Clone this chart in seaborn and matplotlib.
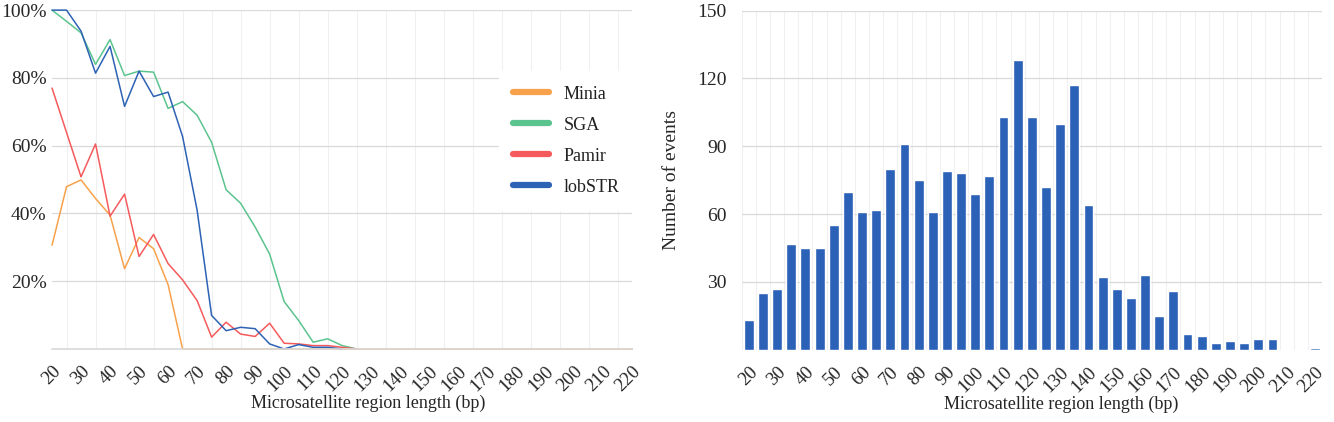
import numpy as np
import pandas as pd
import matplotlib
matplotlib.use("Agg")
import matplotlib.pyplot as plt
import seaborn as sns

nan = float("nan")

# region length categories (bp), 20..220 in steps of 5
lengths = [20, 25, 30, 35, 40, 45, 50, 55, 60, 65, 70, 75, 80, 85, 90, 95, 100,
           105, 110, 115, 120, 125, 130, 135, 140, 145, 150, 155, 160, 165, 170,
           175, 180, 185, 190, 195, 200, 205, 210, 215, 220]

# left panel: detection rate (%)
minia = [30.6, 47.9, 49.9, 44.4, 39.5, 23.7, 32.9, 29.6, 19.0, 0, 0, 0, 0, 0, 0, 0, 0,
         0, 0, 0, 0, 0, 0, 0, 0, 0, 0, 0, 0, 0, 0, 0, 0, 0, 0, 0, 0, 0, 0, 0, 0]
sga = [100, 96.7, 93.3, 84.0, 91.3, 80.7, 82.0, 81.7, 71.0, 73.0, 69.0, 61.0, 47.0,
       43.0, 36.0, 28.0, 14.0, 8.4, 2.0, 3.0, 1.0, 0, nan, nan, nan, nan, nan, nan,
       nan, nan, nan, nan, nan, nan, nan, nan, nan, nan, nan, nan, nan]
pamir = [77.0, 63.9, 50.8, 60.5, 39.2, 45.7, 27.3, 33.8, 25.2, 20.4, 14.3, 3.5, 7.9,
         4.4, 3.7, 7.6, 1.7, 1.5, 1.0, 1.0, 0.5, 0, nan, nan, nan, nan, nan, nan,
         nan, nan, nan, nan, nan, nan, nan, nan, nan, nan, nan, nan, nan]
lobstr = [100, 100, 93.8, 81.4, 89.3, 71.6, 82.0, 74.5, 75.8, 62.7, 41.0, 9.9, 5.4,
          6.4, 6.0, 1.5, 0, 1.3, 0.5, 0.5, 0, nan, nan, nan, nan, nan, nan, nan,
          nan, nan, nan, nan, nan, nan, nan, nan, nan, nan, nan, nan, nan]

# right panel: number of events
events = [13, 25, 27, 47, 45, 45, 55, 70, 61, 62, 80, 91, 75, 61, 79, 78, 69,
          77, 103, 128, 103, 72, 100, 117, 64, 32, 27, 23, 33, 15, 26,
          7, 6, 3, 4, 3, 5, 5, 0, 0, 1]

colors = {"Minia": "#F7A24B", "SGA": "#5BC48E", "Pamir": "#F55A5C", "lobSTR": "#2D62B5"}
bar_color = "#2B61B6"

rate = pd.DataFrame({"length": lengths * 4,
                     "rate": minia + sga + pamir + lobstr,
                     "tool": ["Minia"] * len(lengths) + ["SGA"] * len(lengths)
                             + ["Pamir"] * len(lengths) + ["lobSTR"] * len(lengths)})
counts = pd.DataFrame({"length": [str(v) for v in lengths], "events": events})

sns.set_theme(style="white")
plt.rcParams["font.family"] = ["Liberation Serif", "DejaVu Serif"]
plt.rcParams["text.color"] = "#222222"

fig = plt.figure(figsize=(13.34, 4.22), dpi=100)
ax1 = fig.add_axes([0.039, 0.173, 0.435, 0.803])
ax2 = fig.add_axes([0.556, 0.171, 0.435, 0.804])

#%% left: line chart
sns.lineplot(data=rate, x="length", y="rate", hue="tool", palette=colors,
             linewidth=1.1, ax=ax1)
for ln in ax1.get_lines():
    ln.set_clip_on(False)
ax1.set_xlim(20, 220)
ax1.set_ylim(0, 100)
ax1.set_xticks(lengths[::2])
ax1.set_xticklabels([str(v) for v in lengths[::2]], rotation=45, ha="right",
                    rotation_mode="anchor", fontsize=13.5)
ax1.set_xticks(lengths, minor=True)
ax1.set_yticks([20, 40, 60, 80, 100])
ax1.set_yticklabels(["20%", "40%", "60%", "80%", "100%"], fontsize=14)
ax1.grid(axis="y", which="major", color="#d9d9d9", linewidth=0.9)
ax1.grid(axis="x", which="minor", color="#f0f0f0", linewidth=0.8)
ax1.tick_params(length=0, which="both", pad=4)
ax1.tick_params(axis="x", pad=10)
ax1.set_xlabel("Microsatellite region length (bp)", fontsize=13)
ax1.xaxis.set_label_coords(0.545, -0.135)
ax1.set_ylabel("")
for s in ["top", "right", "left"]:
    ax1.spines[s].set_visible(False)
ax1.spines["bottom"].set_color("#d9d9d9")
ax1.set_axisbelow(True)

leg = ax1.legend(loc="upper left", bbox_to_anchor=(0.770, 0.82), frameon=True,
                 fontsize=13, handlelength=1.95, labelspacing=0.78,
                 borderpad=0.8, handletextpad=0.85, borderaxespad=0)
leg.get_frame().set_facecolor("white")
leg.get_frame().set_edgecolor("white")
leg.get_frame().set_alpha(1)
for line in leg.get_lines():
    line.set_linewidth(4.5)

#%% right: bar chart
sns.barplot(data=counts, x="length", y="events", color=bar_color, width=0.7,
            saturation=1, ax=ax2)
ax2.set_xlim(-0.5, len(lengths) - 0.5)
ax2.set_ylim(0, 150)
ax2.set_xticks(range(0, len(lengths), 2))
ax2.set_xticklabels([str(v) for v in lengths[::2]], rotation=45, ha="right",
                    rotation_mode="anchor", fontsize=13.5)
ax2.set_xticks(np.arange(-0.5, len(lengths), 1), minor=True)
ax2.set_yticks([30, 60, 90, 120, 150])
ax2.set_yticklabels(["30", "60", "90", "120", "150"], fontsize=14)
ax2.grid(axis="y", which="major", color="#d9d9d9", linewidth=0.9)
ax2.grid(axis="x", which="minor", color="#f0f0f0", linewidth=0.8)
ax2.tick_params(length=0, which="both")
ax2.tick_params(axis="y", pad=11)
ax2.tick_params(axis="x", pad=10)
ax2.set_xlabel("Microsatellite region length (bp)", fontsize=13)
ax2.xaxis.set_label_coords(0.55, -0.135)
ax2.set_ylabel("Number of events", fontsize=14)
ax2.yaxis.set_label_coords(-0.107, 0.5)
sns.despine(ax=ax2, left=True, bottom=True)
ax2.set_axisbelow(True)

fig.savefig("out.png", dpi=100)
